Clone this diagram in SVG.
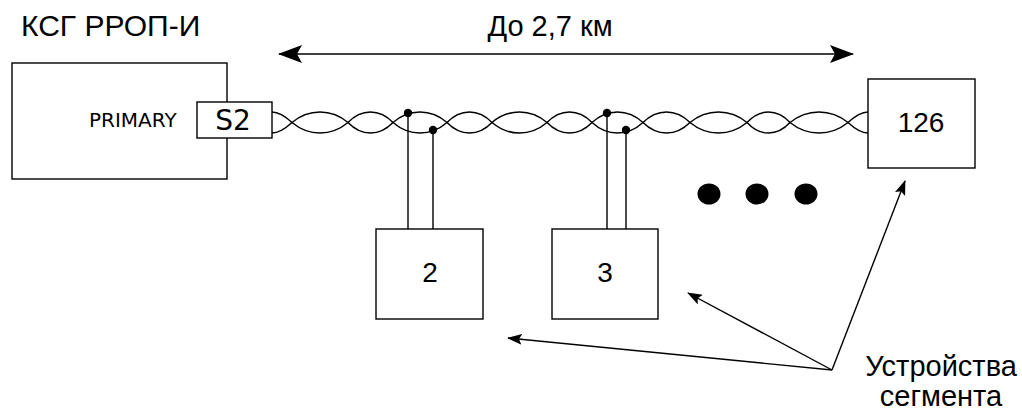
<svg xmlns="http://www.w3.org/2000/svg" width="1022" height="412" viewBox="0 0 1022 412">
<defs>
<style>
.box{fill:#fff;stroke:#000;stroke-width:1.4}
.w{fill:none;stroke:#000;stroke-width:1.5}
.ln{fill:none;stroke:#000;stroke-width:1.4}
.t{font-family:"Liberation Sans",Arial,sans-serif;fill:#000}
.v{font-family:"DejaVu Sans",Verdana,sans-serif;fill:#000}
</style>
<marker id="ahb" viewBox="0 0 24 18" refX="23" refY="9" markerWidth="24" markerHeight="18" markerUnits="userSpaceOnUse" orient="auto-start-reverse">
<path d="M0,0 L24,9 L0,18 L5,9 Z" fill="#000"/>
</marker>
<marker id="ah" viewBox="0 0 15 11" refX="14" refY="5.5" markerWidth="15" markerHeight="11" markerUnits="userSpaceOnUse" orient="auto">
<path d="M0,0 L15,5.5 L0,11 L3,5.5 Z" fill="#000"/>
</marker>
</defs>
<rect width="1022" height="412" fill="#fff"/>

<text class="t" x="21" y="36" font-size="30">КСГ РРОП-И</text>
<text class="t" x="550" y="36" font-size="29" text-anchor="middle">До 2,7 км</text>

<g id="ksg">
<rect class="box" x="12" y="63" width="215" height="116"/>
<text class="v" x="89" y="127" font-size="20">PRIMARY</text>
</g>
<g id="s2">
<rect class="box" x="197" y="102" width="75" height="36"/>
<text class="v" x="233" y="130" font-size="28" text-anchor="middle">S2</text>
</g>
<g id="dev126">
<rect class="box" x="868" y="79" width="107" height="89"/>
<text class="t" x="921" y="132" font-size="28" text-anchor="middle">126</text>
</g>
<g id="dev2">
<rect class="box" x="376" y="229" width="107" height="90"/>
<text class="t" x="430" y="282" font-size="28" text-anchor="middle">2</text>
</g>
<g id="dev3">
<rect class="box" x="552" y="229" width="106" height="90"/>
<text class="t" x="605" y="282" font-size="28" text-anchor="middle">3</text>
</g>
<g id="ellipsis">
<ellipse cx="709" cy="194" rx="11.5" ry="10.5"/>
<ellipse cx="757" cy="194" rx="11.5" ry="10.5"/>
<ellipse cx="806" cy="194" rx="11.5" ry="10.5"/>
</g>
<g id="label">
<text class="t" x="941" y="376" font-size="29" text-anchor="middle">Устройства</text>
<text class="t" x="941" y="406" font-size="29" text-anchor="middle">сегмента</text>
</g>

<g id="connectors">
<line class="ln" x1="279" y1="54" x2="853" y2="54" marker-start="url(#ahb)" marker-end="url(#ahb)"/>
<path class="w" d="M272,112 C279,112 286,117 292,122.5 C308.8,136.5 331.2,136.5 348,122.5 C361.5,108.5 379.5,108.5 393,122.5 C409.2,136.5 430.8,136.5 447,122.5 C460.5,108.5 478.5,108.5 492,122.5 C508.5,136.5 530.5,136.5 547,122.5 C560.5,108.5 578.5,108.5 592,122.5 C607.3,136.5 627.7,136.5 643,122.5 C657.1,108.5 675.9,108.5 690,122.5 C707.1,136.5 729.9,136.5 747,122.5 C759.9,108.5 777.1,108.5 790,122.5 C807.4,136.5 830.6,136.5 848,122.5 C854,117 861,112 868,112"/>
<path class="w" d="M272,133 C279,133 286,128 292,122.5 C308.8,108.5 331.2,108.5 348,122.5 C361.5,136.5 379.5,136.5 393,122.5 C409.2,108.5 430.8,108.5 447,122.5 C460.5,136.5 478.5,136.5 492,122.5 C508.5,108.5 530.5,108.5 547,122.5 C560.5,136.5 578.5,136.5 592,122.5 C607.3,108.5 627.7,108.5 643,122.5 C657.1,136.5 675.9,136.5 690,122.5 C707.1,108.5 729.9,108.5 747,122.5 C759.9,136.5 777.1,136.5 790,122.5 C807.4,108.5 830.6,108.5 848,122.5 C854,128 861,133 868,133"/>
<line class="ln" x1="408" y1="113" x2="408" y2="229"/>
<line class="ln" x1="433" y1="130" x2="433" y2="229"/>
<line class="ln" x1="607" y1="113" x2="607" y2="229"/>
<line class="ln" x1="626" y1="130" x2="626" y2="229"/>
<circle cx="408" cy="113" r="4.2"/>
<circle cx="433" cy="130" r="4.2"/>
<circle cx="607" cy="113" r="4.2"/>
<circle cx="626" cy="130" r="4.2"/>
<line class="ln" x1="832" y1="370" x2="905" y2="181" marker-end="url(#ah)"/>
<line class="ln" x1="832" y1="370" x2="688" y2="293" marker-end="url(#ah)"/>
<line class="ln" x1="832" y1="370" x2="508" y2="338" marker-end="url(#ah)"/>
</g>
</svg>
